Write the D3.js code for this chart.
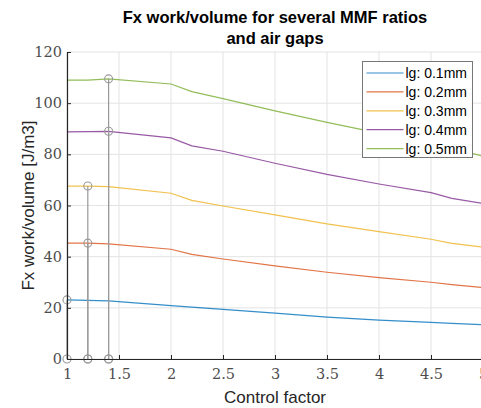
<!DOCTYPE html>
<html>
<head>
<meta charset="utf-8">
<script src="https://cdn.jsdelivr.net/npm/d3@7"></script>
<style>
  body { margin: 0; background: #fff; }
  svg { display: block; }
</style>
</head>
<body>
<div id="chart"></div>
<script>
// values
const controlFactor = [1, 1.2, 1.4, 2, 2.2, 2.5, 3, 3.5, 4, 4.5, 4.7, 5];
const lg01 = [23.1, 22.9, 22.7, 20.9, 20.3, 19.4, 17.9, 16.4, 15.2, 14.3, 13.9, 13.4];
const lg02 = [45.3, 45.3, 45.0, 42.9, 40.9, 39.1, 36.4, 33.9, 31.8, 30.0, 29.1, 27.9];
const lg03 = [67.6, 67.6, 67.4, 64.8, 62.0, 59.8, 56.3, 52.8, 49.8, 46.8, 45.2, 43.7];
const lg04 = [88.8, 88.9, 89.0, 86.4, 83.3, 81.2, 76.5, 72.2, 68.4, 65.0, 62.8, 60.8];
const lg05 = [109.0, 109.0, 109.5, 107.5, 104.5, 101.8, 97.0, 92.5, 88.3, 84.2, 82.3, 79.3];
const seriesNames = ["lg: 0.1mm", "lg: 0.2mm", "lg: 0.3mm", "lg: 0.4mm", "lg: 0.5mm"];
const seriesColors = ["#0072BD", "#D95319", "#EDB120", "#7E2F8E", "#77AC30"];

// the max-value stems
const stemX = [1, 1.2, 1.2, 1.4, 1.4];
const stemY = [23.1, 45.3, 67.6, 89.0, 109.5];

const xTicks = [1, 1.5, 2, 2.5, 3, 3.5, 4, 4.5, 5];
const yTicks = [0, 20, 40, 60, 80, 100, 120];

const width = 481, height = 408;
const margin = { top: 52, right: -2, bottom: 49, left: 67 };

const svg = d3.select("#chart").append("svg")
    .attr("width", width)
    .attr("height", height);

const x = d3.scaleLinear().domain([1, 5]).range([margin.left, width - margin.right]);
const y = d3.scaleLinear().domain([0, 120]).range([height - margin.bottom, margin.top]);

// grid
const grid = svg.append("g");
grid.selectAll(".gx").data(xTicks).enter().append("line")
    .attr("x1", d => x(d)).attr("x2", d => x(d))
    .attr("y1", y(0)).attr("y2", y(120))
    .attr("stroke", "#e3e3e3").attr("stroke-width", 1);
grid.selectAll(".gy").data(yTicks).enter().append("line")
    .attr("x1", x(1)).attr("x2", x(5))
    .attr("y1", d => y(d)).attr("y2", d => y(d))
    .attr("stroke", "#e3e3e3").attr("stroke-width", 1);

// lines
const allSeries = [lg01, lg02, lg03, lg04, lg05];
const line = d3.line()
    .x((d, i) => x(controlFactor[i]))
    .y(d => y(d));

svg.append("g").selectAll("path")
    .data(allSeries)
    .enter().append("path")
        .attr("d", line)
        .attr("fill", "none")
        .attr("stroke", (d, i) => seriesColors[i])
        .attr("stroke-opacity", 0.8)
        .attr("stroke-width", 1.2);

// stems
const stems = svg.append("g");
stems.selectAll("line").data(stemY).enter().append("line")
    .attr("x1", (d, i) => x(stemX[i])).attr("x2", (d, i) => x(stemX[i]))
    .attr("y1", y(0)).attr("y2", d => y(d))
    .attr("stroke", "#999").attr("stroke-width", 1.2);
stems.selectAll(".top").data(stemY).enter().append("circle")
    .attr("cx", (d, i) => x(stemX[i])).attr("cy", d => y(d))
    .attr("r", 4).attr("fill", "none")
    .attr("stroke", "#999").attr("stroke-width", 1.1);
stems.selectAll(".bot").data(stemX).enter().append("circle")
    .attr("cx", d => x(d)).attr("cy", y(0))
    .attr("r", 4).attr("fill", "none")
    .attr("stroke", "#999").attr("stroke-width", 1.1);

// axes
const xAxis = svg.append("g")
    .attr("transform", `translate(0,${y(0)})`)
    .call(d3.axisBottom(x).tickValues(xTicks).tickSizeInner(-4).tickSizeOuter(0).tickPadding(10).tickFormat(d3.format("")));
const yAxis = svg.append("g")
    .attr("transform", `translate(${x(1)},0)`)
    .call(d3.axisLeft(y).tickValues(yTicks).tickSizeInner(-4).tickSizeOuter(0).tickPadding(5));

[xAxis, yAxis].forEach(a => {
    a.attr("font-family", null);
    a.select(".domain").attr("stroke", "#262626").attr("stroke-width", 1.2);
    a.selectAll(".tick line").attr("stroke", "#262626");
    a.selectAll(".tick text")
        .attr("fill", "#4d4d4d")
        .attr("font-family", "DejaVu Serif")
        .attr("font-size", 14.5);
});

// titles
const sans = "'Liberation Sans', Arial, Helvetica, sans-serif";
svg.append("text")
    .attr("x", (x(1) + x(5)) / 2).attr("y", 23)
    .attr("text-anchor", "middle")
    .style("font-family", sans).style("font-size", "16.5px").style("font-weight", "bold")
    .attr("fill", "#000")
    .text("Fx work/volume for several MMF ratios");
svg.append("text")
    .attr("x", (x(1) + x(5)) / 2).attr("y", 44)
    .attr("text-anchor", "middle")
    .style("font-family", sans).style("font-size", "16.5px").style("font-weight", "bold")
    .attr("fill", "#000")
    .text("and air gaps");

svg.append("text")
    .attr("x", (x(1) + x(5)) / 2).attr("y", 403)
    .attr("text-anchor", "middle")
    .style("font-family", sans).style("font-size", "17px")
    .attr("fill", "#262626")
    .text("Control factor");

svg.append("text")
    .attr("transform", `translate(34,${(y(0) + y(120)) / 2}) rotate(-90)`)
    .attr("text-anchor", "middle")
    .style("font-family", sans).style("font-size", "17px")
    .attr("fill", "#262626")
    .text("Fx work/volume [J/m3]");

// legend
const legend = svg.append("g").attr("transform", "translate(362.5,61.5)");
legend.append("rect")
    .attr("width", 110).attr("height", 96)
    .attr("fill", "#fff").attr("stroke", "#777").attr("stroke-width", 1);
const rows = legend.selectAll(".row").data(seriesNames).enter().append("g")
    .attr("transform", (d, i) => `translate(0,${11.5 + i * 18.9})`);
rows.append("line")
    .attr("x1", 4).attr("x2", 41)
    .attr("stroke", (d, i) => seriesColors[i])
    .attr("stroke-opacity", 0.8)
    .attr("stroke-width", 1.2);
rows.append("text")
    .attr("x", 43).attr("y", 5)
    .style("font-family", sans).style("font-size", "14px")
    .attr("fill", "#000")
    .text(d => d);
</script>
</body>
</html>
